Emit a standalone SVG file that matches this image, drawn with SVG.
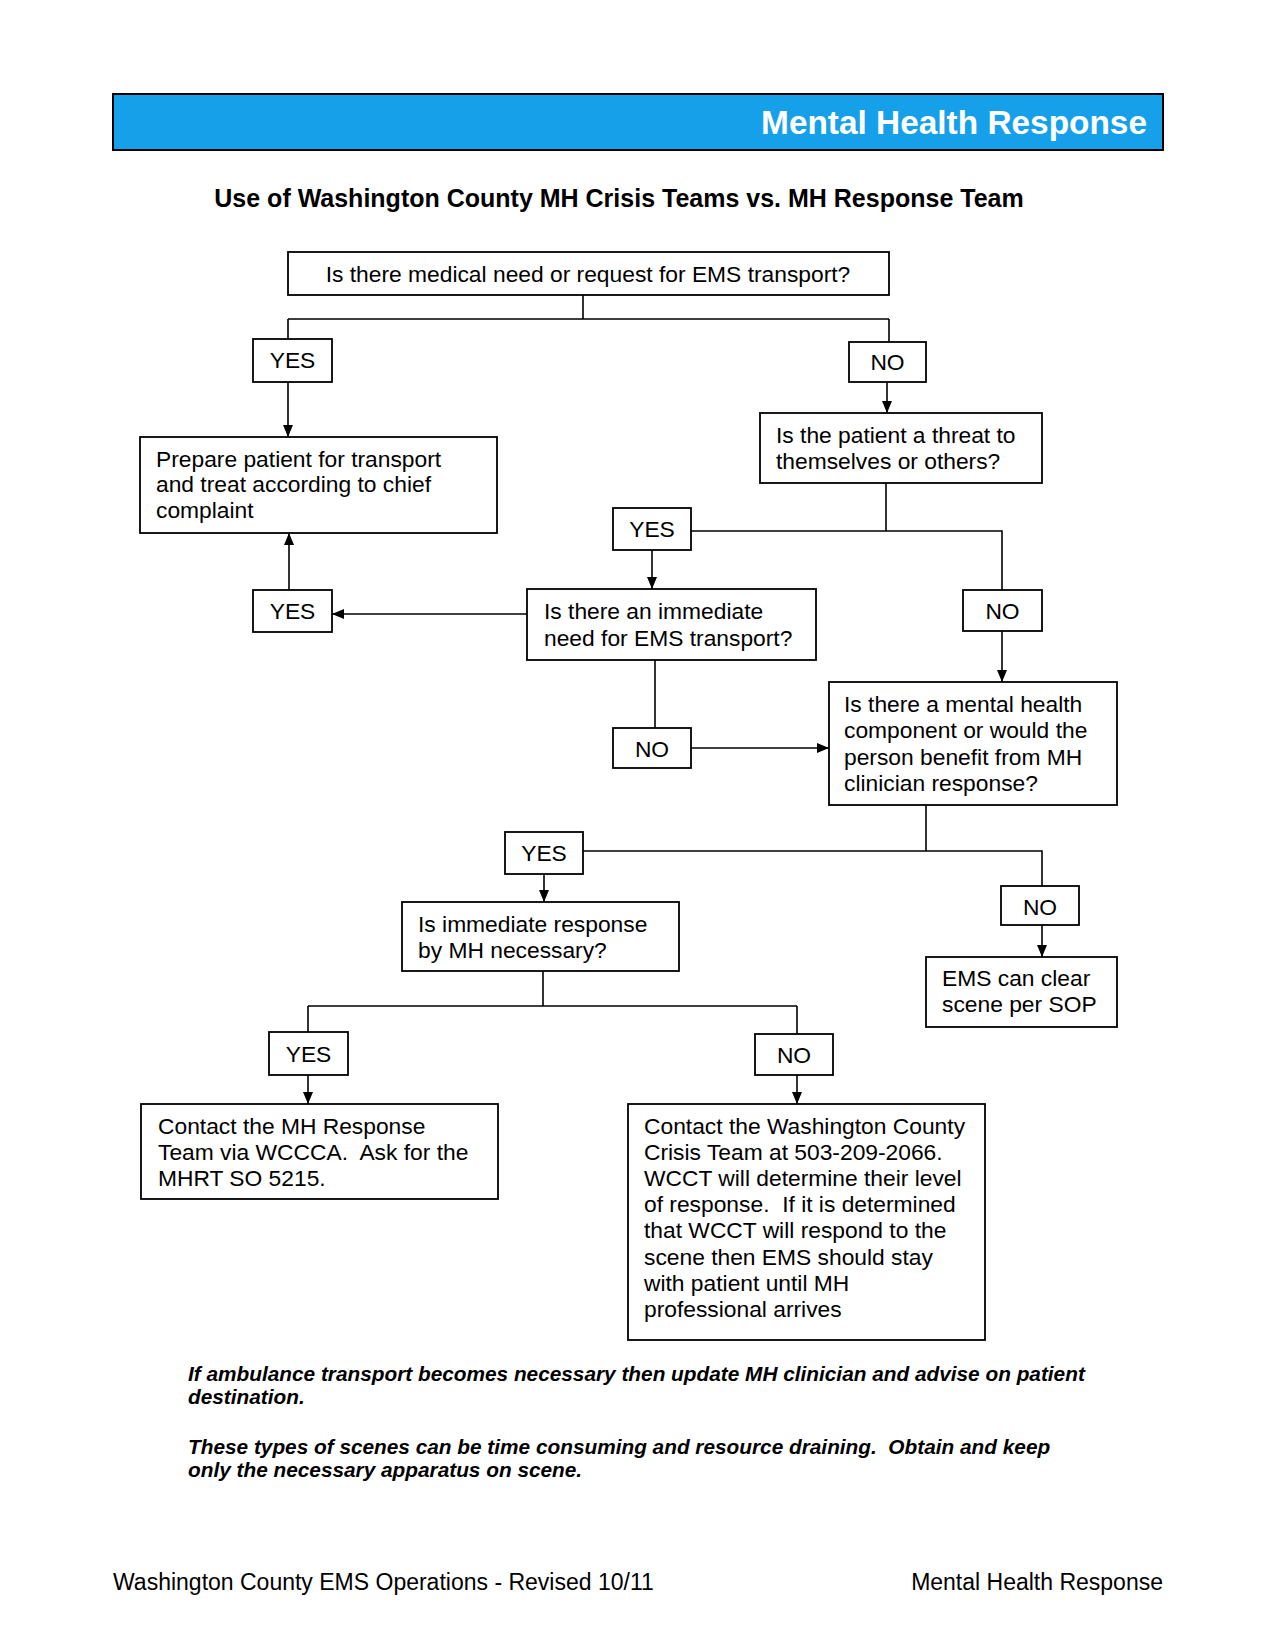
<svg xmlns="http://www.w3.org/2000/svg" width="1275" height="1650" viewBox="0 0 1275 1650">
<style>
.box{fill:#fff;stroke:#000;stroke-width:1.8}
.t{font-family:"Liberation Sans",Arial,sans-serif;font-size:22.8px;fill:#000}
.c{text-anchor:middle}
.ln{fill:none;stroke:#000;stroke-width:1.6}
.note{font-family:"Liberation Sans",Arial,sans-serif;font-size:20.8px;font-weight:bold;font-style:italic;fill:#000}
</style>
<defs>
<marker id="ah" viewBox="0 0 12 10" refX="12" refY="5" markerWidth="12" markerHeight="10" markerUnits="userSpaceOnUse" orient="auto">
<path d="M0,0 L12,5 L0,10 z" fill="#000"/>
</marker>
</defs>
<rect width="1275" height="1650" fill="#fff"/>
<g id="header">
<rect x="113" y="94" width="1050" height="56" fill="#16A0EA" stroke="#000" stroke-width="2"/>
<text x="1147" y="134" text-anchor="end" font-family="'Liberation Sans',Arial,sans-serif" font-size="33.4px" font-weight="bold" fill="#fff">Mental Health Response</text>
</g>
<text x="619" y="207" text-anchor="middle" font-family="'Liberation Sans',Arial,sans-serif" font-size="25px" font-weight="bold">Use of Washington County MH Crisis Teams vs. MH Response Team</text>

<g id="connectors">
<path class="ln" d="M583,295 V319 M288,319 H889 M288,319 V339 M889,319 V342"/>
<path class="ln" d="M288,382 V437" marker-end="url(#ah)"/>
<path class="ln" d="M887,382 V413" marker-end="url(#ah)"/>
<path class="ln" d="M886,483 V531 M691,531 H1002 V590"/>
<path class="ln" d="M652,550 V589" marker-end="url(#ah)"/>
<path class="ln" d="M527,614 H332" marker-end="url(#ah)"/>
<path class="ln" d="M289,590 V533" marker-end="url(#ah)"/>
<path class="ln" d="M1002,631 V682" marker-end="url(#ah)"/>
<path class="ln" d="M655,660 V728"/>
<path class="ln" d="M691,748 H829" marker-end="url(#ah)"/>
<path class="ln" d="M926,805 V851 M583,851 H1042 V886"/>
<path class="ln" d="M544,874 V902" marker-end="url(#ah)"/>
<path class="ln" d="M1042,925 V957" marker-end="url(#ah)"/>
<path class="ln" d="M543,971 V1006 M308,1006 H797 M308,1006 V1032 M797,1006 V1034"/>
<path class="ln" d="M308,1075 V1104" marker-end="url(#ah)"/>
<path class="ln" d="M797,1075 V1104" marker-end="url(#ah)"/>
</g>

<g id="q1"><rect class="box" x="288" y="252" width="601" height="43"/><text class="t c" x="588" y="282">Is there medical need or request for EMS transport?</text></g>
<g id="yes1"><rect class="box" x="253" y="339" width="79" height="43"/><text class="t c" x="292.5" y="368">YES</text></g>
<g id="no1"><rect class="box" x="849" y="342" width="77" height="40"/><text class="t c" x="887.5" y="370">NO</text></g>
<g id="prepare"><rect class="box" x="140" y="437" width="357" height="96"/><text class="t" x="156" y="467">Prepare patient for transport</text><text class="t" x="156" y="492">and treat according to chief</text><text class="t" x="156" y="518">complaint</text></g>
<g id="threat"><rect class="box" x="760" y="413" width="282" height="70"/><text class="t" x="776" y="443">Is the patient a threat to</text><text class="t" x="776" y="469">themselves or others?</text></g>
<g id="yes2"><rect class="box" x="613" y="508" width="78" height="42"/><text class="t c" x="652" y="537">YES</text></g>
<g id="no2"><rect class="box" x="963" y="590" width="79" height="41"/><text class="t c" x="1002.5" y="619">NO</text></g>
<g id="immediate"><rect class="box" x="527" y="589" width="289" height="71"/><text class="t" x="544" y="619">Is there an immediate</text><text class="t" x="544" y="646">need for EMS transport?</text></g>
<g id="yes3"><rect class="box" x="253" y="590" width="79" height="42"/><text class="t c" x="292.5" y="619">YES</text></g>
<g id="no3"><rect class="box" x="613" y="728" width="78" height="40"/><text class="t c" x="652" y="757">NO</text></g>
<g id="mh"><rect class="box" x="829" y="682" width="288" height="123"/><text class="t" x="844" y="712">Is there a mental health</text><text class="t" x="844" y="738">component or would the</text><text class="t" x="844" y="765">person benefit from MH</text><text class="t" x="844" y="791">clinician response?</text></g>
<g id="yes4"><rect class="box" x="505" y="832" width="78" height="42"/><text class="t c" x="544" y="861">YES</text></g>
<g id="no4"><rect class="box" x="1001" y="886" width="78" height="39"/><text class="t c" x="1040" y="915">NO</text></g>
<g id="immresp"><rect class="box" x="402" y="902" width="277" height="69"/><text class="t" x="418" y="932">Is immediate response</text><text class="t" x="418" y="958">by MH necessary?</text></g>
<g id="ems"><rect class="box" x="926" y="957" width="191" height="70"/><text class="t" x="942" y="986">EMS can clear</text><text class="t" x="942" y="1012">scene per SOP</text></g>
<g id="yes5"><rect class="box" x="269" y="1032" width="79" height="43"/><text class="t c" x="308.5" y="1062">YES</text></g>
<g id="no5"><rect class="box" x="755" y="1034" width="78" height="41"/><text class="t c" x="794" y="1063">NO</text></g>
<g id="contactmh"><rect class="box" x="141" y="1104" width="357" height="95"/><text class="t" x="158" y="1134">Contact the MH Response</text><text class="t" x="158" y="1160" xml:space="preserve">Team via WCCCA.  Ask for the</text><text class="t" x="158" y="1186">MHRT SO 5215.</text></g>
<g id="contactwc"><rect class="box" x="628" y="1104" width="357" height="236"/><text class="t" x="644" y="1134">Contact the Washington County</text><text class="t" x="644" y="1160">Crisis Team at 503-209-2066.</text><text class="t" x="644" y="1186">WCCT will determine their level</text><text class="t" x="644" y="1212" xml:space="preserve">of response.  If it is determined</text><text class="t" x="644" y="1238">that WCCT will respond to the</text><text class="t" x="644" y="1265">scene then EMS should stay</text><text class="t" x="644" y="1291">with patient until MH</text><text class="t" x="644" y="1317">professional arrives</text></g>

<g id="notes">
<text class="note" x="188" y="1381">If ambulance transport becomes necessary then update MH clinician and advise on patient</text>
<text class="note" x="188" y="1404">destination.</text>
<text class="note" x="188" y="1454" xml:space="preserve">These types of scenes can be time consuming and resource draining.  Obtain and keep</text>
<text class="note" x="188" y="1477">only the necessary apparatus on scene.</text>
</g>
<g id="footer">
<text x="113" y="1590" font-family="'Liberation Sans',Arial,sans-serif" font-size="23px">Washington County EMS Operations - Revised 10/11</text>
<text x="1163" y="1590" text-anchor="end" font-family="'Liberation Sans',Arial,sans-serif" font-size="23px">Mental Health Response</text>
</g>
</svg>
